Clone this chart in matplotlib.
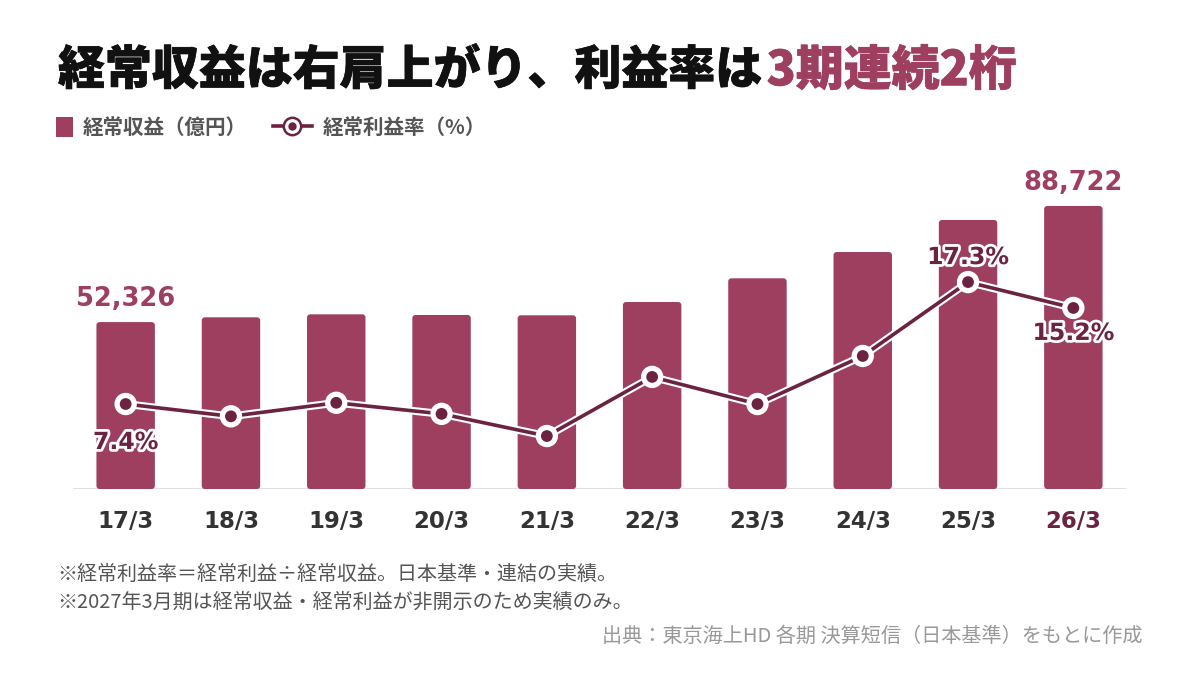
import matplotlib
matplotlib.use("Agg")
import matplotlib.pyplot as plt
import matplotlib.patheffects as pe
from matplotlib.lines import Line2D
from matplotlib.patches import Rectangle, FancyBboxPatch

plt.rcParams['font.family'] = ['Noto Sans CJK JP', 'DejaVu Sans']

# ---- data ----
categories = ["17/3", "18/3", "19/3", "20/3", "21/3", "22/3", "23/3", "24/3", "25/3", "26/3"]
revenue = [52326, 53820, 54760, 54550, 54450, 58620, 66050, 74290, 84330, 88722]   # 経常収益（億円）
margin = [7.4, 6.4, 7.5, 6.6, 4.8, 9.6, 7.4, 11.3, 17.3, 15.2]                        # 経常利益率（%）
bar_labels = {0: "52,326", 9: "88,722"}
pct_labels = {0: ("7.4%", -38), 8: ("17.3%", 25), 9: ("15.2%", -25)}

title_a = "経常収益は右肩上がり、利益率は"
title_b = "3期連続2桁"
legend_bar = "経常収益（億円）"
legend_line = "経常利益率（%）"
note1 = "※経常利益率＝経常利益÷経常収益。日本基準・連結の実績。"
note2 = "※2027年3月期は経常収益・経常利益が非開示のため実績のみ。"
source = "出典：東京海上HD 各期 決算短信（日本基準）をもとに作成"

BAR = "#9E3F60"
DARK = "#6C2341"
TXT = "#333333"
GRAY = "#555555"

W, H = 1200, 680
fig = plt.figure(figsize=(12, 6.8), dpi=100)
fig.patch.set_facecolor("white")

def fx(px):
    return px / W

def fy(py):
    return 1 - py / H

ax = fig.add_axes([fx(73), fy(489), fx(1126) - fx(73), fy(170) - fy(489)])
ax.set_xlim(-0.5, 9.5)
ax.set_ylim(0, 100000)
for s in ax.spines.values():
    s.set_visible(False)
ax.set_yticks([])

x = list(range(len(categories)))
bars = ax.bar(x, revenue, width=0.555, color=BAR, zorder=2)
# round the corners slightly
for b in bars:
    b.set_visible(False)
    bb = FancyBboxPatch((b.get_x(), b.get_y()), b.get_width(), b.get_height(),
                        boxstyle="round,pad=0,rounding_size=0.03",
                        mutation_aspect=100000 / 319 * 105.3,
                        facecolor=BAR, edgecolor="none", zorder=2)
    ax.add_patch(bb)

ax.axhline(0, color="#dddddd", lw=2, zorder=1)

ax.set_xticks(x)
ax.set_xticklabels(categories, fontsize=16.5, fontweight="bold", color=TXT,
                   family=["DejaVu Sans"])
ax.tick_params(axis="x", length=0, pad=15)
ax.get_xticklabels()[-1].set_color(DARK)

for i, lab in bar_labels.items():
    ax.annotate(lab, (x[i], revenue[i]), xytext=(0, 16.5), textcoords="offset points",
                ha="center", va="center", fontsize=18.5, fontweight="bold", color=BAR,
                family=["DejaVu Sans"], zorder=5)

ax2 = ax.twinx()
ax2.set_ylim(0.5, 26.4)
ax2.set_yticks([])
for s in ax2.spines.values():
    s.set_visible(False)
ax2.plot(x, margin, color=DARK, lw=2.6, zorder=3,
         path_effects=[pe.Stroke(linewidth=5.6, foreground="white"), pe.Normal()],
         marker="o", markersize=10.5, markerfacecolor=DARK, markeredgecolor="white",
         markeredgewidth=2.0)

for i, (lab, off) in pct_labels.items():
    ax2.annotate(lab, (x[i], margin[i]), xytext=(0, off * 0.72), textcoords="offset points",
                 ha="center", va="center", fontsize=17, fontweight="bold", color=DARK,
                 family=["DejaVu Sans"], zorder=6,
                 path_effects=[pe.withStroke(linewidth=4, foreground="white")])

# ---- title ----
t1 = fig.text(fx(58), fy(71), title_a, fontsize=33.8, fontweight="heavy", color="#111111",
              va="center", ha="left",
              path_effects=[pe.withStroke(linewidth=0.5, foreground="#111111")])
fig.canvas.draw()
bb = t1.get_window_extent(renderer=fig.canvas.get_renderer())
fig.text(bb.x1 / W + 0.003, fy(71), title_b, fontsize=34.5, fontweight="heavy", color=BAR,
         va="center", ha="left",
         path_effects=[pe.withStroke(linewidth=0.5, foreground=BAR)])

# ---- legend ----
fig.patches.append(Rectangle((fx(56), fy(137)), fx(17), 20 / H, transform=fig.transFigure,
                             facecolor=BAR, edgecolor="none", figure=fig))
fig.text(fx(83), fy(127), legend_bar, fontsize=14.8, fontweight="bold", color=GRAY,
         va="center", ha="left")
fig.lines.append(Line2D([fx(273), fx(312)], [fy(126), fy(126)], transform=fig.transFigure,
                        color=DARK, lw=2.6, figure=fig))
fig.lines.append(Line2D([fx(292)], [fy(126)], transform=fig.transFigure, marker="o",
                        markersize=12.5, markerfacecolor="white", markeredgecolor=DARK,
                        markeredgewidth=1.8, color=DARK, figure=fig))
fig.lines.append(Line2D([fx(292)], [fy(126)], transform=fig.transFigure, marker="o",
                        markersize=6, markerfacecolor=DARK, markeredgecolor=DARK,
                        markeredgewidth=0, color=DARK, figure=fig))
fig.text(fx(323), fy(127), legend_line, fontsize=14.8, fontweight="bold", color=GRAY,
         va="center", ha="left")

# ---- notes ----
fig.text(fx(57), fy(574), note1, fontsize=14.4, color=GRAY, va="center", ha="left")
fig.text(fx(57), fy(602), note2, fontsize=14.4, color=GRAY, va="center", ha="left")
fig.text(fx(1143), fy(636), source, fontsize=14.5, color="#999999", va="center", ha="right")

fig.savefig("out.png", dpi=100, facecolor="white")
